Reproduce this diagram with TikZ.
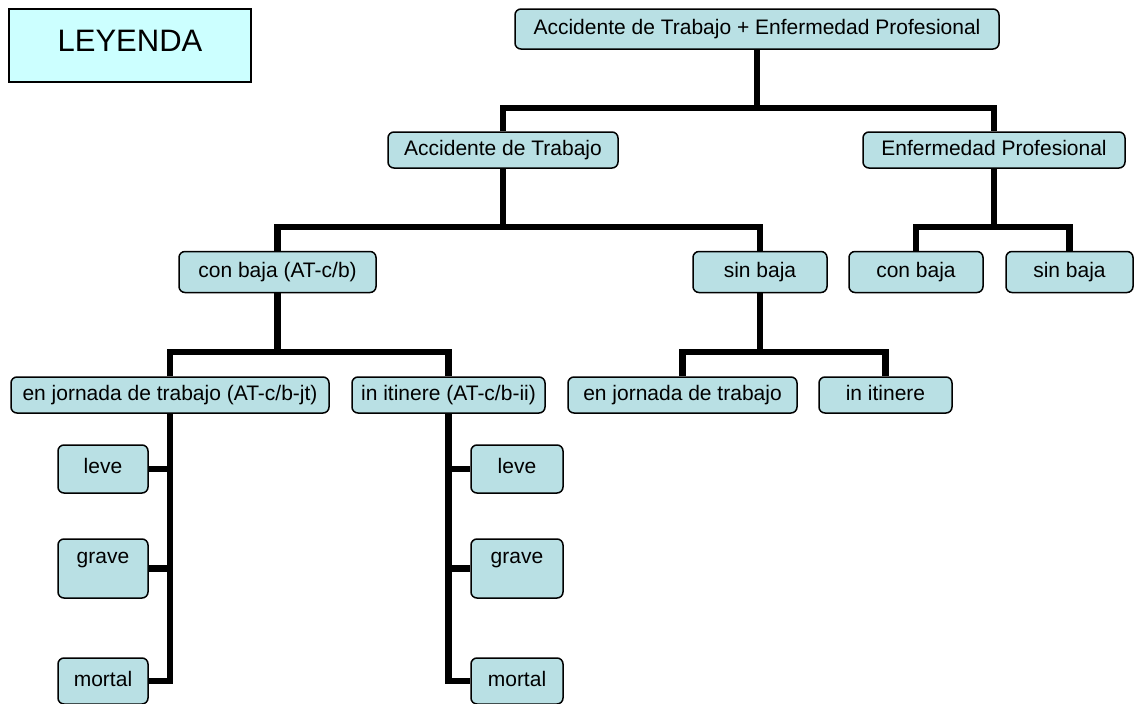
\documentclass[tikz,border=0pt]{standalone}
\usepackage{fontspec}
\setmainfont{Liberation Sans}
\definecolor{boxfill}{RGB}{185,224,228}
\definecolor{legendfill}{RGB}{204,255,255}
\begin{document}
\begin{tikzpicture}
      [x=1pt,y=-1pt,
      class node/.style={rectangle,rounded corners=6pt,draw=black,line width=1.5pt,fill=boxfill,inner sep=0pt,
        text height=15pt,text depth=4.5pt,font=\fontsize{21}{24}\selectfont},
      leaf node/.style={class node,minimum width=90pt},
      legend node/.style={rectangle,draw=black,line width=1.5pt,fill=legendfill,inner sep=0pt,font=\fontsize{31}{36}\selectfont},
      conn/.style={line width=6.5pt}]
      \useasboundingbox (0,0) rectangle (1135,704);
      \node[legend node,minimum width=242pt,minimum height=73pt,text depth=10pt] (ley) at (130,45.5) {LEYENDA};
      \node[class node,minimum width=484pt,minimum height=40pt] (acep) at (757,29) {Accidente de Trabajo + Enfermedad Profesional};
      \node[class node,minimum width=230pt,minimum height=36pt] (at) at (503,150) {Accidente de Trabajo};
      \node[class node,minimum width=262pt,minimum height=36pt] (ep) at (994,150) {Enfermedad Profesional};
      \node[class node,minimum width=197pt,minimum height=41pt] (atcb) at (277.5,272) {con baja (AT-c/b)};
      \node[class node,minimum width=134pt,minimum height=41pt] (atsb) at (760,272) {sin baja};
      \node[class node,minimum width=134pt,minimum height=41pt] (epcb) at (916,272) {con baja};
      \node[class node,minimum width=127pt,minimum height=41pt] (epsb) at (1069.5,272) {sin baja};
      \node[class node,minimum width=318pt,minimum height=36pt] (jt) at (170,395) {en jornada de trabajo (AT-c/b-jt)};
      \node[class node,minimum width=193pt,minimum height=36pt] (ii) at (448.5,395) {in itinere (AT-c/b-ii)};
      \node[class node,minimum width=229pt,minimum height=36pt] (sbjt) at (682.5,395) {en jornada de trabajo};
      \node[class node,minimum width=133pt,minimum height=36pt] (sbii) at (885.5,395) {in itinere};
      % leaves of the two "con baja" branches
      \node[leaf node,minimum height=48pt,text depth=6pt] (jtleve) at (103,469) {leve};
      \node[leaf node,minimum height=59pt,text depth=26pt] (jtgrave) at (103,568.5) {grave};
      \node[leaf node,minimum height=46pt] (jtmortal) at (103,681) {mortal};
      \node[leaf node,minimum width=92pt,minimum height=48pt,text depth=6pt] (iileve) at (517,469) {leve};
      \node[leaf node,minimum width=92pt,minimum height=59pt,text depth=26pt] (iigrave) at (517,568.5) {grave};
      \node[leaf node,minimum width=92pt,minimum height=46pt] (iimortal) at (517,681) {mortal};
      \coordinate (top) at (757,108);
      \coordinate (atj) at (503,227);
      \coordinate (epj) at (994,227);
      \coordinate (cbj) at (277.5,352);
      \coordinate (sbj) at (760,352);
      \draw[conn] (acep) -- (top);
      \draw[conn] (at) |- (top) -| (ep);
      \draw[conn] (at) -- (atj);
      \draw[conn] (atcb) |- (atj) -| (atsb);
      \draw[conn] (ep) -- (epj);
      \draw[conn] (epcb) |- (epj) -| (epsb);
      \draw[conn] (atcb) -- (cbj);
      \draw[conn] (jt) |- (cbj) -| (ii);
      \draw[conn] (atsb) -- (sbj);
      \draw[conn] (sbjt) |- (sbj) -| (sbii);
      \foreach \l in {leve,grave,mortal} {
        \draw[conn] (jt.south) |- (jt\l);
        \draw[conn] (ii.south) |- (ii\l);
      }
\end{tikzpicture}
\end{document}
